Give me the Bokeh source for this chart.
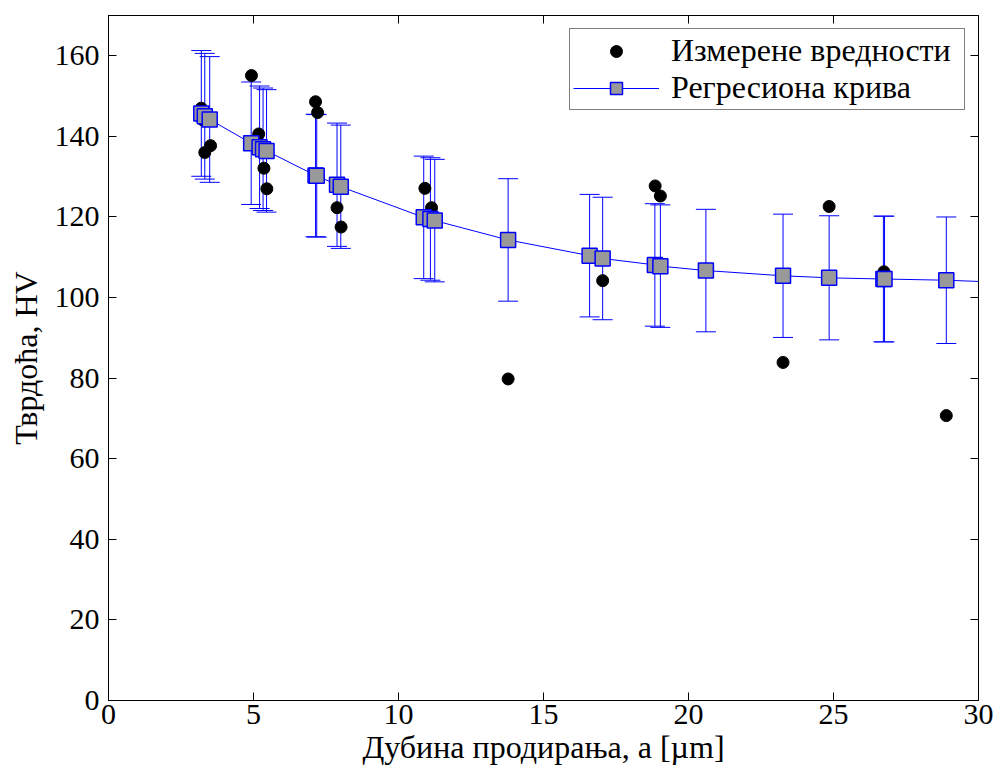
from bokeh.plotting import figure
from bokeh.models import (ColumnDataSource, Range1d, LinearAxis, Whisker, TeeHead,
                          FixedTicker, Legend, LegendItem)
from bokeh.embed import file_html
from bokeh.resources import INLINE

# Measured hardness values
meas_x = [3.20, 3.25, 3.32, 3.52, 4.93, 5.18, 5.36, 5.46, 7.14, 7.21, 7.88, 8.02,
          10.91, 11.14, 13.78, 17.04, 18.85, 19.03, 23.26, 24.85, 26.74, 28.89]
meas_y = [147.0, 144.1, 136.0, 137.7, 155.1, 140.6, 132.1, 127.0, 148.6, 145.9, 122.3, 117.5,
          127.1, 122.3, 79.8, 104.2, 127.7, 125.2, 83.9, 122.6, 106.4, 70.7]

# Regression curve points with error bars
reg_x = [3.20, 3.32, 3.49, 4.92, 5.21, 5.33, 5.45, 7.14, 7.18, 7.88, 8.01,
         10.87, 11.10, 11.25, 13.78, 16.59, 17.04, 18.84, 19.03, 20.60,
         23.26, 24.85, 26.72, 26.76, 28.89]
reg_y = [145.7, 145.0, 144.2, 138.3, 137.3, 136.8, 136.4, 130.3, 130.2, 128.0, 127.5,
         119.9, 119.5, 119.1, 114.3, 110.4, 109.7, 108.1, 107.8, 106.7,
         105.4, 104.9, 104.6, 104.6, 104.3]
reg_err = [15.6, 15.6, 15.6, 15.2, 15.2, 15.2, 15.2, 15.2, 15.2, 15.3, 15.3,
           15.2, 15.2, 15.2, 15.2, 15.2, 15.2, 15.2, 15.2, 15.2,
           15.3, 15.4, 15.6, 15.6, 15.7]

# Continuation of the fitted curve to the right edge
curve_x = reg_x + [30.0]
curve_y = reg_y + [104.0]

x_ticks = [0, 5, 10, 15, 20, 25, 30]
y_ticks = [0, 20, 40, 60, 80, 100, 120, 140, 160]

x_label = "Дубина продирања, a [µm]"
y_label = "Тврдоћа, HV"
legend_labels = ["Измерене вредности", "Регресиона крива"]

FONT = "Liberation Serif"
BLUE = "#0000ff"

p = figure(width=998, height=776, output_backend="svg", toolbar_location=None,
           x_range=Range1d(0, 30), y_range=Range1d(0, 170),
           min_border_left=108, min_border_right=20, min_border_top=15, min_border_bottom=76)
p.background_fill_color = "white"
p.border_fill_color = "white"
p.outline_line_color = "black"
p.outline_line_width = 1
p.xgrid.visible = False
p.ygrid.visible = False

def style_axis(ax, ticks, labels=True):
    ax.ticker = FixedTicker(ticks=ticks)
    ax.major_tick_in = 8
    ax.major_tick_out = 0
    ax.minor_tick_line_color = None
    ax.axis_line_color = "black"
    ax.major_tick_line_color = "black"
    ax.major_label_text_font = FONT
    ax.major_label_text_color = "black"
    if labels:
        ax.major_label_text_font_size = "30px"
    else:
        ax.major_label_text_font_size = "0px"
        ax.major_label_standoff = 0

style_axis(p.xaxis[0], x_ticks)
style_axis(p.yaxis[0], y_ticks)
p.xaxis[0].major_label_standoff = 4
p.yaxis[0].major_label_standoff = 9
p.xaxis[0].axis_label = x_label
p.yaxis[0].axis_label = y_label
for ax in (p.xaxis[0], p.yaxis[0]):
    ax.axis_label_text_font = FONT
    ax.axis_label_text_font_style = "normal"
    ax.axis_label_text_font_size = "32px"
    ax.axis_label_text_color = "black"
p.xaxis[0].axis_label_standoff = 2
p.yaxis[0].axis_label_standoff = 8

ax_r = LinearAxis()
style_axis(ax_r, y_ticks, labels=False)
p.add_layout(ax_r, "right")
ax_t = LinearAxis()
style_axis(ax_t, x_ticks, labels=False)
p.add_layout(ax_t, "above")

src = ColumnDataSource(data=dict(
    x=reg_x, y=reg_y,
    upper=[a + b for a, b in zip(reg_y, reg_err)],
    lower=[a - b for a, b in zip(reg_y, reg_err)],
))
wh = Whisker(source=src, base="x", upper="upper", lower="lower",
             line_color=BLUE, line_width=1,
             upper_head=TeeHead(size=20, line_color=BLUE, line_width=1),
             lower_head=TeeHead(size=20, line_color=BLUE, line_width=1))
p.add_layout(wh)

r_meas = p.scatter(meas_x, meas_y, marker="circle", size=12,
                   fill_color="black", line_color="black")
r_line = p.line(curve_x, curve_y, line_color=BLUE, line_width=1)
r_sq = p.scatter("x", "y", source=src, marker="square", size=15,
                 fill_color="#999999", line_color=BLUE, line_width=1.5)

legend = Legend(items=[
    LegendItem(label=legend_labels[0], renderers=[r_meas]),
    LegendItem(label=legend_labels[1], renderers=[r_line, r_sq]),
], location="top_right")
legend.label_text_font = FONT
legend.label_text_font_size = "32px"
legend.label_text_color = "black"
legend.border_line_color = "black"
legend.border_line_width = 1
legend.background_fill_alpha = 1
legend.glyph_width = 86
legend.glyph_height = 30
legend.label_height = 30
legend.label_width = 290
legend.spacing = 0
legend.padding = 3
legend.margin = 13
legend.label_standoff = 12
p.add_layout(legend)

open("out.html", "w").write(file_html(p, INLINE))
